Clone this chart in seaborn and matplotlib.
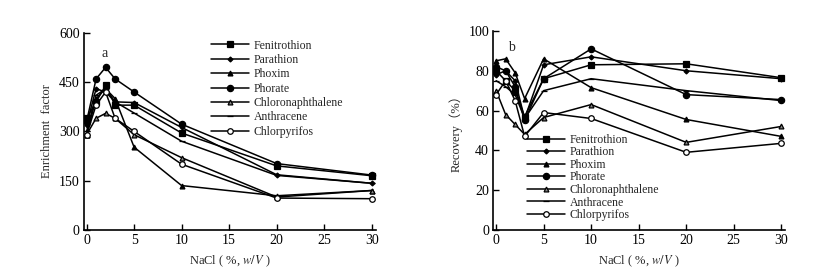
import numpy as np
import pandas as pd
import seaborn as sns
import matplotlib.pyplot as plt

nacl = [0, 1, 2, 3, 5, 10, 20, 30]
names = ['Fenitrothion', 'Parathion', 'Phoxim', 'Phorate',
         'Chloronaphthalene', 'Anthracene', 'Chlorpyrifos']

# panel a: enrichment factor
ef_fenitrothion = [340, 390, 440, 380, 380, 295, 195, 165]
ef_parathion = [320, 430, 420, 390, 388, 312, 168, 142]
ef_phoxim = [290, 400, 430, 400, 252, 135, 104, 120]
ef_phorate = [330, 460, 495, 460, 420, 322, 202, 167]
ef_chloro = [290, 340, 355, 340, 290, 220, 100, 120]
ef_anthracene = [300, 410, 430, 390, 356, 270, 166, 142]
ef_chlorpyrifos = [290, 380, 420, 340, 300, 200, 97, 95]

# panel b: recovery (%)
rec_fenitrothion = [80, 75, 70, 57, 76, 83, 83.5, 76.5]
rec_parathion = [78, 80, 75, 56, 83, 87, 80, 76]
rec_phoxim = [85, 86, 79, 66, 86, 71.5, 55.5, 47]
rec_phorate = [82, 80, 72, 55, 76, 91, 68, 65.5]
rec_chloro = [70, 58, 53, 48, 56.5, 63, 44, 52]
rec_anthracene = [75, 72, 68, 56, 70, 76, 70, 65]
rec_chlorpyrifos = [68, 75, 65, 47, 59, 56, 39, 43.5]

ef = [ef_fenitrothion, ef_parathion, ef_phoxim, ef_phorate,
      ef_chloro, ef_anthracene, ef_chlorpyrifos]
rec = [rec_fenitrothion, rec_parathion, rec_phoxim, rec_phorate,
       rec_chloro, rec_anthracene, rec_chlorpyrifos]


def to_long(series):
    rows = []
    for n, vals in zip(names, series):
        for x, v in zip(nacl, vals):
            rows.append({'NaCl': x, 'value': v, 'compound': n})
    return pd.DataFrame(rows)


sns.set_theme(style='ticks')
plt.rcParams['font.family'] = ['Liberation Serif', 'Noto Sans CJK SC']
plt.rcParams['mathtext.fontset'] = 'stix'

markers = {'Fenitrothion': 's', 'Parathion': 'D', 'Phoxim': '^', 'Phorate': 'o',
           'Chloronaphthalene': '^', 'Anthracene': '_', 'Chlorpyrifos': 'o'}
sizes = {'Fenitrothion': 4, 'Parathion': 2.5, 'Phoxim': 3.5, 'Phorate': 4.5,
         'Chloronaphthalene': 3.5, 'Anthracene': 4, 'Chlorpyrifos': 4}
faces = {'Fenitrothion': 'black', 'Parathion': 'black', 'Phoxim': 'black',
         'Phorate': 'black', 'Chloronaphthalene': '#888888',
         'Anthracene': 'black', 'Chlorpyrifos': 'white'}

fig = plt.figure(figsize=(8.29, 2.79), dpi=100)
ax1 = fig.add_axes([0.101, 0.176, 0.352, 0.706])
ax2 = fig.add_axes([0.595, 0.176, 0.352, 0.713])

for ax, data in [(ax1, ef), (ax2, rec)]:
    df = to_long(data)
    for n in names:
        sub = df[df['compound'] == n]
        sns.lineplot(data=sub, x='NaCl', y='value', ax=ax, color='black',
                     lw=1.1, marker=markers[n], markersize=sizes[n],
                     markerfacecolor=faces[n], markeredgecolor='black',
                     markeredgewidth=0.9, label=n)
    ax.set_xlim(-0.3, 30.4)
    ax.set_xticks(range(0, 31, 5))
    sns.despine(ax=ax)
    ax.tick_params(direction='in', length=4, width=1, labelsize=10, pad=3,
                   colors='black')
    for s in ['left', 'bottom']:
        ax.spines[s].set_linewidth(1.2)
        ax.spines[s].set_color('black')
    ax.set_xlabel('NaCl ( %, $\\it{w/V}$ )', fontsize=9, labelpad=5)

ax1.set_ylim(0, 600)
ax1.set_yticks(range(0, 601, 150))
ax1.set_ylabel('Enrichment  factor', fontsize=9, labelpad=4)
ax1.text(0.06, 0.93, 'a', transform=ax1.transAxes, fontsize=10, va='top')
ax1.legend(loc='upper left', bbox_to_anchor=(0.42, 0.99), frameon=False,
           fontsize=8.5, handlelength=3.2, labelspacing=0.2,
           handletextpad=0.4, borderaxespad=0)

ax2.set_ylim(0, 100)
ax2.set_yticks(range(0, 101, 20))
ax2.set_ylabel('Recovery（%）', fontsize=9, labelpad=4)
ax2.text(0.05, 0.95, 'b', transform=ax2.transAxes, fontsize=10, va='top')
ax2.legend(loc='lower left', bbox_to_anchor=(0.10, 0.02), frameon=False,
           fontsize=8.5, handlelength=3.2, labelspacing=0.05,
           handletextpad=0.4, borderaxespad=0)

fig.savefig('out.png', dpi=100)
